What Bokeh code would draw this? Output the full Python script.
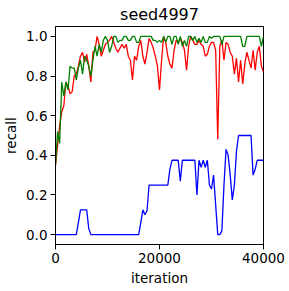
from bokeh.plotting import figure
from bokeh.models import Range1d, FixedTicker, PrintfTickFormatter, ColumnDataSource
from bokeh.embed import file_html
from bokeh.resources import INLINE

iterations = list(range(0, 40001, 400))

recall_red = [
    0.35, 0.45, 0.55, 0.62, 0.65, 0.77, 0.75, 0.71, 0.72, 0.80,
    0.81, 0.85, 0.90, 0.92, 0.87, 0.91, 0.85, 0.77, 0.92, 0.93,
    1.00, 0.96, 0.90, 0.93, 0.96, 0.97, 0.98, 1.00, 0.97, 0.94,
    0.92, 0.94, 0.96, 0.94, 0.96, 0.90, 0.88, 0.78, 0.90, 0.88,
    0.95, 0.98, 0.90, 0.86, 0.92, 0.99, 0.97, 0.94, 0.90, 0.85,
    0.73, 0.88, 1.00, 0.97, 0.90, 0.86, 0.84, 0.93, 0.98, 0.97,
    0.99, 0.97, 0.93, 0.83, 0.95, 1.00, 0.98, 0.96, 0.96, 0.98,
    0.96, 0.95, 0.90, 0.91, 0.95, 0.97, 0.97, 0.93, 0.48, 0.95,
    0.98, 0.88, 0.97, 0.96, 0.92, 0.90, 0.81, 0.89, 0.77, 0.88,
    0.76, 0.86, 0.92, 0.88, 0.84, 0.93, 0.83, 0.92, 0.95, 0.85, 0.82,
]

recall_green = [
    0.35, 0.52, 0.46, 0.77, 0.70, 0.77, 0.73, 0.85, 0.84, 0.84,
    0.78, 0.84, 0.88, 0.81, 0.90, 0.88, 0.85, 0.80, 0.88, 0.95,
    0.90, 0.96, 0.92, 0.98, 1.00, 0.98, 0.92, 0.95, 1.00, 1.00,
    0.97, 0.98, 0.98, 1.00, 1.00, 0.98, 0.98, 1.00, 1.00, 0.97,
    0.97, 1.00, 1.00, 1.00, 1.00, 1.00, 1.00, 0.98, 0.98, 0.97,
    0.98, 0.97, 1.00, 0.97, 1.00, 1.00, 0.96, 1.00, 1.00, 0.96,
    1.00, 0.95, 0.98, 0.95, 1.00, 1.00, 0.98, 1.00, 0.97, 0.99,
    0.97, 1.00, 0.97, 0.97, 1.00, 0.99, 1.00, 1.00, 1.00, 1.00,
    0.96, 1.00, 1.00, 1.00, 1.00, 1.00, 1.00, 1.00, 1.00, 1.00,
    0.95, 0.95, 1.00, 1.00, 1.00, 1.00, 1.00, 1.00, 1.00, 0.95, 1.00,
]

recall_blue = [
    0.0, 0.0, 0.0, 0.0, 0.0, 0.0, 0.0, 0.0, 0.0, 0.0,
    0.0, 0.06, 0.125, 0.125, 0.125, 0.125, 0.03, 0.0, 0.0, 0.0,
    0.0, 0.0, 0.0, 0.0, 0.0, 0.0, 0.0, 0.0, 0.0, 0.0,
    0.0, 0.0, 0.0, 0.0, 0.0, 0.0, 0.0, 0.0, 0.0, 0.0,
    0.0, 0.06, 0.125, 0.10, 0.12, 0.25, 0.25, 0.25, 0.25, 0.25,
    0.25, 0.25, 0.25, 0.25, 0.25, 0.33, 0.375, 0.375, 0.375, 0.375,
    0.27, 0.375, 0.375, 0.375, 0.375, 0.375, 0.375, 0.375, 0.20, 0.375,
    0.34, 0.375, 0.34, 0.375, 0.25, 0.23, 0.30, 0.15, 0.0, 0.0,
    0.02, 0.25, 0.43, 0.40, 0.30, 0.175, 0.25, 0.42, 0.5, 0.5,
    0.5, 0.5, 0.5, 0.5, 0.5, 0.30, 0.33, 0.375, 0.375, 0.375, 0.375,
]

x_ticks = [0, 20000, 40000]
y_ticks = [0.0, 0.2, 0.4, 0.6, 0.8, 1.0]
x_label = "iteration"
y_label = "recall"

assert len(iterations) == len(recall_red) == len(recall_green) == len(recall_blue)

src = ColumnDataSource(dict(it=iterations, red=recall_red, green=recall_green, blue=recall_blue))

FONT = "DejaVu Sans"

p = figure(width=289, height=291, output_backend="svg", toolbar_location=None,
           x_range=Range1d(0, 40000), y_range=Range1d(-0.05, 1.05),
           title="seed4997",
           min_border_left=48, min_border_right=26, min_border_top=17, min_border_bottom=47)

p.line(x="it", y="red", source=src, line_color="#ff0000", line_width=1.3)
p.line(x="it", y="green", source=src, line_color="#008000", line_width=1.3)
p.line(x="it", y="blue", source=src, line_color="#0000ff", line_width=1.3)

p.title.text_font = FONT
p.title.text_font_size = "16px"
p.title.text_font_style = "normal"
p.title.align = "center"
p.title.text_color = "black"
p.title.standoff = 5

p.xgrid.grid_line_color = None
p.ygrid.grid_line_color = None
p.outline_line_color = "black"
p.outline_line_alpha = 1
p.outline_line_width = 1
p.background_fill_color = "white"
p.border_fill_color = "white"

p.xaxis.ticker = FixedTicker(ticks=x_ticks)
p.yaxis.ticker = FixedTicker(ticks=y_ticks)
p.yaxis.formatter = PrintfTickFormatter(format="%.1f")
p.xaxis.axis_label = x_label
p.yaxis.axis_label = y_label

for ax in (p.xaxis[0], p.yaxis[0]):
    ax.major_tick_out = 5
    ax.major_tick_in = 0
    ax.minor_tick_out = 0
    ax.minor_tick_in = 0
    ax.axis_line_color = "black"
    ax.major_tick_line_color = "black"
    ax.major_label_text_font = FONT
    ax.major_label_text_font_size = "13.5px"
    ax.major_label_text_color = "black"
    ax.axis_label_text_font = FONT
    ax.axis_label_text_font_size = "13.5px"
    ax.axis_label_text_font_style = "normal"
    ax.axis_label_text_color = "black"

p.xaxis[0].major_label_standoff = 3
p.xaxis[0].axis_label_standoff = 4
p.yaxis[0].major_label_standoff = 3
p.yaxis[0].axis_label_standoff = 4

open("out.html", "w").write(file_html(p, INLINE))
